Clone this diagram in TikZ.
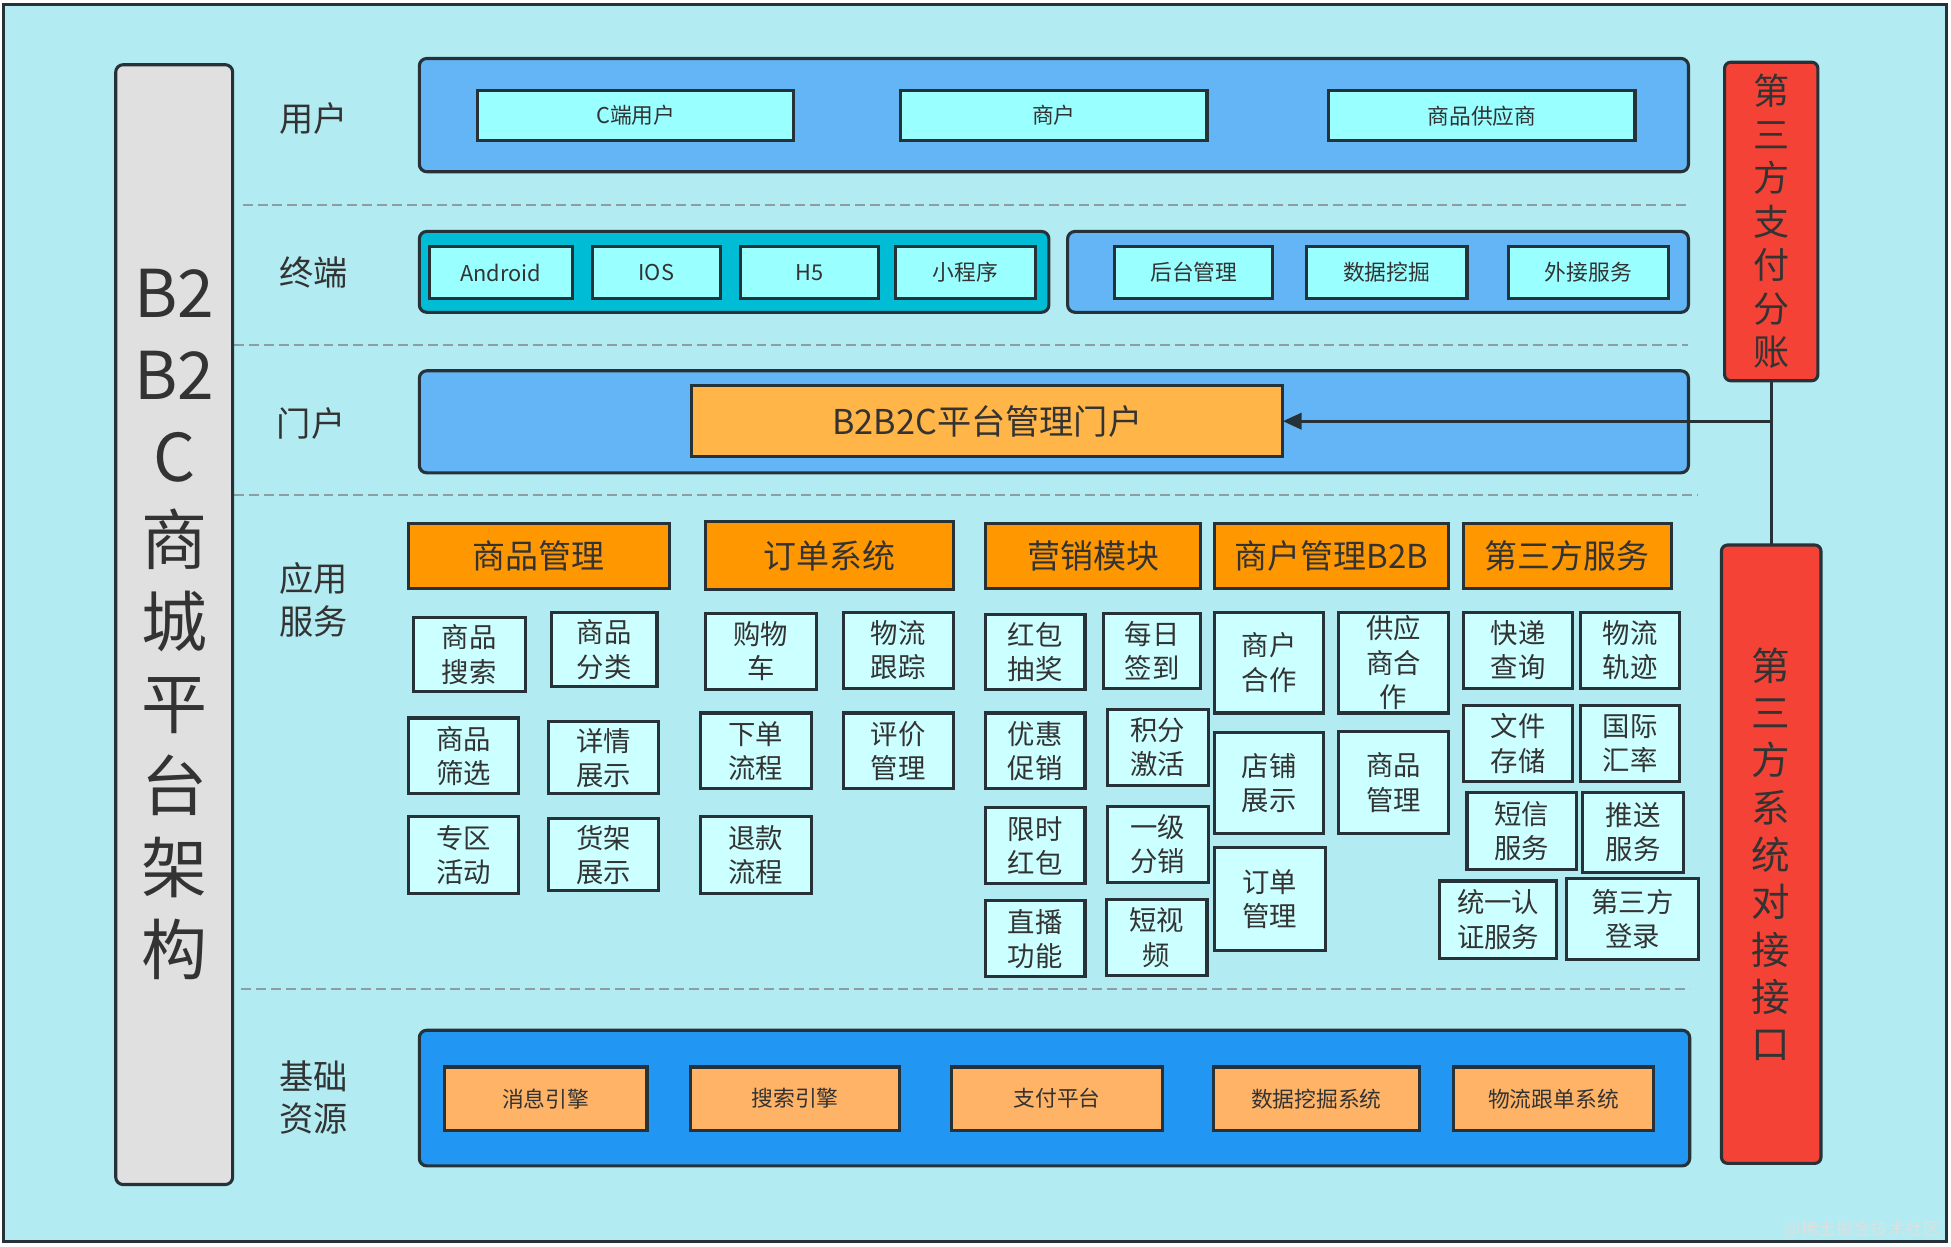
\documentclass[tikz,border=0pt]{standalone}
\usepackage{fontspec}
\setmainfont{Noto Sans CJK SC}
\usetikzlibrary{arrows.meta}
\definecolor{bgc}{HTML}{B2EBF2}
\definecolor{bandc}{HTML}{64B5F6}
\definecolor{bandd}{HTML}{2196F3}
\definecolor{termc}{HTML}{00BCD4}
\definecolor{ubc}{HTML}{99FFFF}
\definecolor{sbc}{HTML}{CCFFFF}
\definecolor{hdrc}{HTML}{FF9800}
\definecolor{portc}{HTML}{FFB547}
\definecolor{basec}{HTML}{FFB366}
\definecolor{redc}{HTML}{F44336}
\definecolor{grayc}{HTML}{E0E0E0}
\definecolor{dk}{HTML}{263238}
\definecolor{txt}{HTML}{333333}
\definecolor{dashc}{HTML}{8C9EA3}
\begin{document}
\begin{tikzpicture}[x=1pt,y=-1pt,
  every node/.style={inner sep=0pt,outer sep=0pt,text=txt,align=center},
  band/.style={draw=dk,line width=2.5pt,rounded corners=6pt,fill=bandc},
  ubox/.style={draw=dk,line width=2.5pt,fill=ubc,font=\fontsize{17.5}{20}\selectfont},
  hdr/.style={draw=dk,line width=2.5pt,fill=hdrc,font=\fontsize{26.5}{30}\selectfont},
  sbox/.style={draw=dk,line width=2.5pt,fill=sbc,font=\fontsize{22}{27.5}\selectfont},
  bbox/.style={draw=dk,line width=2.5pt,fill=basec,font=\fontsize{17.5}{20}\selectfont},
  redbox/.style={draw=dk,line width=2.5pt,rounded corners=5pt,fill=redc},
  lbl/.style={font=\fontsize{27.5}{34}\selectfont},
  sep/.style={draw=dashc,line width=1.5pt,dash pattern=on 8pt off 4pt},
  conn/.style={draw=dk,line width=2.5pt}]
\useasboundingbox (0,0) rectangle (1568,1001.4);
% background
\draw[fill=bgc,draw=dk,line width=2.5pt] (2.5,3.5) rectangle (1564.5,998);
% dashed separators
\draw[sep] (195,165) -- (1357,165);
\draw[sep] (188,277) -- (1357,277);
\draw[sep] (188,398) -- (1365,398);
\draw[sep] (194,795) -- (1358,795);
% left title bar
\node[draw=dk,line width=2.5pt,rounded corners=6pt,fill=grayc,minimum width=94pt,minimum height=900pt,
  font=\fontsize{53}{66}\selectfont] (title) at (140,502) {B2\\B2\\C\\商\\城\\平\\台\\架\\构};
% layer labels
\node[lbl] (l1) at (252,95) {用户};
\node[lbl] (l2) at (252,219) {终端};
\node[lbl] (l3) at (250,340) {门户};
\node[lbl] (l4) at (252,482) {应用\\服务};
\node[lbl] (l5) at (252,882) {基础\\资源};
% row 1 users
\node[band,minimum width=1020pt,minimum height=91pt] (b1) at (847,92.5) {};
\node[ubox,minimum width=254pt,minimum height=40pt] (u1) at (511,93) {C端用户};
\node[ubox,minimum width=246pt,minimum height=40pt] (u2) at (847,93) {商户};
\node[ubox,minimum width=246pt,minimum height=40pt] (u3) at (1191,93) {商品供应商};
% row 2 terminals
\node[band,fill=termc,minimum width=506pt,minimum height=65pt] (b2a) at (590,218.5) {};
\node[band,minimum width=499pt,minimum height=65pt] (b2b) at (1107.5,218.5) {};
\node[ubox,minimum width=115pt,minimum height=42pt] (t1) at (402.5,219) {Android};
\node[ubox,minimum width=103pt,minimum height=42pt] (t2) at (527.5,219) {IOS};
\node[ubox,minimum width=111pt,minimum height=42pt] (t3) at (650.5,219) {H5};
\node[ubox,minimum width=112pt,minimum height=42pt] (t4) at (776,219) {小程序};
\node[ubox,minimum width=127pt,minimum height=42pt] (t5) at (959.5,219) {后台管理};
\node[ubox,minimum width=129pt,minimum height=42pt] (t6) at (1114.5,219) {数据挖掘};
\node[ubox,minimum width=129pt,minimum height=42pt] (t7) at (1276.5,219) {外接服务};
% row 3 portal
\node[band,minimum width=1020pt,minimum height=82pt] (b3) at (847,339) {};
\node[draw=dk,line width=2.5pt,fill=portc,minimum width=475pt,minimum height=57pt,
  font=\fontsize{27.5}{30}\selectfont] (portal) at (793.5,338.5) {B2B2C平台管理门户};
% application headers
\node[hdr,minimum width=210pt,minimum height=52pt] (h1) at (433,447) {商品管理};
\node[hdr,minimum width=199pt,minimum height=55pt] (h2) at (666.5,446.5) {订单系统};
\node[hdr,minimum width=173pt,minimum height=52pt] (h3) at (878.5,447) {营销模块};
\node[hdr,minimum width=188pt,minimum height=52pt] (h4) at (1070,447) {商户管理B2B};
\node[hdr,minimum width=167pt,minimum height=52pt] (h5) at (1259.5,447) {第三方服务};
% goods management
\node[sbox,minimum width=90pt,minimum height=60pt] (s1) at (377,526) {商品\\搜索};
\node[sbox,minimum width=85pt,minimum height=60pt] (s2) at (485.5,522) {商品\\分类};
\node[sbox,minimum width=89pt,minimum height=61pt] (s3) at (372.5,607.5) {商品\\筛选};
\node[sbox,minimum width=88pt,minimum height=58pt] (s4) at (485,609) {详情\\展示};
\node[sbox,minimum width=89pt,minimum height=62pt] (s5) at (372.5,687) {专区\\活动};
\node[sbox,minimum width=88pt,minimum height=58pt] (s6) at (485,687) {货架\\展示};
% order system
\node[sbox,minimum width=89pt,minimum height=61pt] (o1) at (611.5,523.5) {购物\\车};
\node[sbox,minimum width=88pt,minimum height=61pt] (o2) at (722,522.5) {物流\\跟踪};
\node[sbox,minimum width=89pt,minimum height=61pt] (o3) at (607.5,603.5) {下单\\流程};
\node[sbox,minimum width=88pt,minimum height=61pt] (o4) at (722,603.5) {评价\\管理};
\node[sbox,minimum width=89pt,minimum height=62pt] (o5) at (607.5,687) {退款\\流程};
% marketing
\node[sbox,minimum width=80pt,minimum height=60pt] (m1) at (832,524) {红包\\抽奖};
\node[sbox,minimum width=78pt,minimum height=60pt] (m2) at (926,523) {每日\\签到};
\node[sbox,minimum width=80pt,minimum height=61pt] (m3) at (832,603.5) {优惠\\促销};
\node[sbox,minimum width=81pt,minimum height=61pt] (m4) at (930.5,600.5) {积分\\激活};
\node[sbox,minimum width=80pt,minimum height=61pt] (m5) at (832,679.5) {限时\\红包};
\node[sbox,minimum width=81pt,minimum height=61pt] (m6) at (930.5,678.5) {一级\\分销};
\node[sbox,minimum width=80pt,minimum height=61pt] (m7) at (832,754.5) {直播\\功能};
\node[sbox,minimum width=81pt,minimum height=61pt] (m8) at (929.5,753.5) {短视\\频};
% merchant management
\node[sbox,minimum width=88pt,minimum height=81pt] (c1) at (1020,532.5) {商户\\合作};
\node[sbox,minimum width=88pt,minimum height=81pt] (c2) at (1120,532.5) {供应\\商合\\作};
\node[sbox,minimum width=88pt,minimum height=81pt] (c3) at (1020,629.5) {店铺\\展示};
\node[sbox,minimum width=88pt,minimum height=82pt] (c4) at (1120,629) {商品\\管理};
\node[sbox,minimum width=89pt,minimum height=83pt] (c5) at (1020.5,722.5) {订单\\管理};
% third-party services
\node[sbox,minimum width=88pt,minimum height=61pt] (p1) at (1220,522.5) {快递\\查询};
\node[sbox,minimum width=80pt,minimum height=61pt] (p2) at (1310,522.5) {物流\\轨迹};
\node[sbox,minimum width=88pt,minimum height=61pt] (p3) at (1220,597.5) {文件\\存储};
\node[sbox,minimum width=80pt,minimum height=61pt] (p4) at (1310,597.5) {国际\\汇率};
\node[sbox,minimum width=88pt,minimum height=62pt] (p5) at (1223,668) {短信\\服务};
\node[sbox,minimum width=81pt,minimum height=64pt] (p6) at (1312.5,669) {推送\\服务};
\node[sbox,minimum width=94pt,minimum height=62pt] (p7) at (1204,739) {统一认\\证服务};
\node[sbox,minimum width=106pt,minimum height=65pt] (p8) at (1312,738.5) {第三方\\登录};
% base resources
\node[band,fill=bandd,minimum width=1021pt,minimum height=109pt] (b5) at (847.5,882.5) {};
\node[bbox,minimum width=163pt,minimum height=51pt] (r1) at (438.5,883) {消息引擎};
\node[bbox,minimum width=168pt,minimum height=51pt] (r2) at (639,883) {搜索引擎};
\node[bbox,minimum width=169pt,minimum height=51pt] (r3) at (849.5,883) {支付平台};
\node[bbox,minimum width=166pt,minimum height=51pt] (r4) at (1058,883) {数据挖掘系统};
\node[bbox,minimum width=161pt,minimum height=51pt] (r5) at (1248.5,883) {物流跟单系统};
% right red boxes
\node[redbox,minimum width=75pt,minimum height=256pt,font=\fontsize{29}{35}\selectfont] (red1) at (1423.5,178)
  {第\\三\\方\\支\\付\\分\\账};
\node[redbox,minimum width=80pt,minimum height=497pt,font=\fontsize{31}{38}\selectfont] (red2) at (1423.5,686.5)
  {第\\三\\方\\系\\统\\对\\接\\接\\口};
% connectors
\coordinate (j) at (red1.south |- portal.east);
\draw[conn] (red1.south) -- (red2.north);
\draw[conn,-{Triangle[length=15pt,width=13pt]}] (j) -- (portal.east);
% watermark
\node[font=\fontsize{14}{16}\selectfont,text=white!75!gray] (wm) at (1497,988) {@稀土掘金技术社区};
\end{tikzpicture}
\end{document}
